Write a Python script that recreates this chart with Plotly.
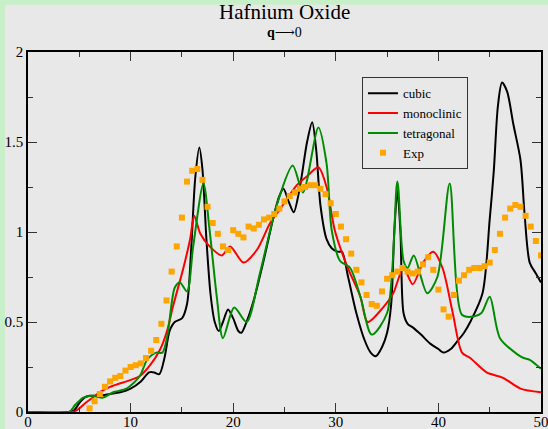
import plotly.graph_objects as go

# ---- data ----
cubic_x = [0, 4, 4.5, 5, 5.5, 6, 7, 8, 9, 10, 11, 11.8, 12.3, 12.8, 13.3, 13.8, 14.3, 15, 15.5, 15.9, 16.3, 16.7,
           17.0, 17.4, 17.8, 18.2, 18.6, 19.0, 19.5, 20.0, 20.5, 20.8, 21.3, 22, 23, 24, 24.5, 24.9, 25.4, 25.9,
           26.5, 27.2, 27.7, 28.1, 28.5, 29.1, 29.6, 30.2, 30.6, 31.2, 32, 32.8, 33.4, 33.9, 34.5, 35.0, 35.4,
           35.7, 36.0, 36.3, 36.6, 37.0, 37.5, 38.3, 39.2, 40, 40.5, 41.2, 41.8, 42.5, 43.1, 44.3, 45, 45.4,
           45.8, 46.2, 46.7, 47.3, 48, 48.4, 48.9, 49.5, 50]
cubic_y = [0, 0, 0.01, 0.05, 0.08, 0.09, 0.09, 0.1, 0.11, 0.13, 0.17, 0.22, 0.22, 0.21, 0.3, 0.45, 0.5, 0.52, 0.6,
           0.9, 1.3, 1.47, 1.35, 0.95, 0.65, 0.5, 0.45, 0.5, 0.57, 0.52, 0.45, 0.44, 0.5, 0.62, 0.85, 1.1, 1.2,
           1.24, 1.17, 1.11, 1.25, 1.5, 1.61, 1.45, 1.15, 0.96, 0.91, 0.89, 0.89, 0.75, 0.55, 0.4, 0.33, 0.31,
           0.36, 0.44, 0.6, 1.0, 1.23, 1.0, 0.55, 0.49, 0.47, 0.43, 0.38, 0.35, 0.33, 0.35, 0.39, 0.44, 0.5, 0.66,
           1.07, 1.34, 1.7, 1.83, 1.78, 1.6, 1.4, 1.1, 0.83, 0.77, 0.72]

mono_x = [0, 4.4, 5, 5.6, 6.3, 7, 8, 9, 9.6, 10.9, 11.9, 12.9, 13.6, 14.1, 15.1, 15.8, 16.2, 16.8, 17.7, 18.9,
          19.7, 21.0, 22.3, 23.6, 24.6, 26.2, 27.2, 28.3, 29.1, 29.9, 31.1, 32.4, 33.1, 34.6, 35.6, 36.6, 37.5,
          38.5, 39.5, 40.4, 41.4, 42.3, 43.1, 44.7, 46.3, 48.0, 50]
mono_y = [0, 0, 0.02, 0.05, 0.08, 0.11, 0.14, 0.16, 0.17, 0.2, 0.26, 0.35, 0.46, 0.58, 0.79, 0.96, 1.09, 0.99,
          0.92, 0.87, 0.92, 0.83, 0.9, 1.05, 1.13, 1.26, 1.31, 1.36, 1.25, 1.01, 0.81, 0.64, 0.5, 0.58, 0.66,
          0.8, 0.71, 0.83, 0.89, 0.8, 0.55, 0.33, 0.3, 0.22, 0.19, 0.13, 0.11]

tetra_x = [0, 4.0, 4.6, 5.4, 6.3, 7.3, 8.3, 9.6, 10.9, 11.6, 12.5, 13.1, 13.6, 14.3, 14.8, 15.5, 16.1, 17.1, 17.7,
           18.4, 19.0, 20.1, 21.3, 22.6, 24.3, 25.8, 26.8, 28.3, 29.1, 29.6, 30.4, 31.4, 32.4, 33.5, 35.0, 36.0,
           36.6, 37.0, 37.6, 38.9, 39.9, 41.1, 42.3, 43.4, 44.2, 45.0, 46.0, 47.7, 48.3, 48.9, 50]
tetra_y = [0, 0, 0.04, 0.08, 0.09, 0.08, 0.11, 0.13, 0.2, 0.29, 0.33, 0.33, 0.43, 0.69, 0.72, 0.67, 0.92, 1.27,
           1.01, 0.64, 0.41, 0.58, 0.5, 0.77, 1.16, 1.37, 1.22, 1.58, 1.38, 1.01, 0.84, 0.8, 0.64, 0.43, 0.55,
           1.28, 0.84, 0.8, 0.87, 0.66, 0.75, 1.27, 0.54, 0.53, 0.55, 0.64, 0.41, 0.32, 0.3, 0.29, 0.24]

exp_x = [6.0 + 0.5 * i for i in range(89)]
exp_y = [0.02, 0.06, 0.10, 0.14, 0.17, 0.19, 0.20, 0.23, 0.25, 0.26, 0.27, 0.30, 0.34, 0.40, 0.49, 0.62, 0.78,
         0.92, 1.08, 1.28, 1.34, 1.35, 1.29, 1.14, 1.05, 0.99, 0.92, 0.90, 1.01, 0.99, 0.97, 1.03, 1.02, 1.04,
         1.07, 1.08, 1.10, 1.13, 1.17, 1.20, 1.22, 1.24, 1.25, 1.26, 1.26, 1.24, 1.21, 1.16, 1.10, 1.03, 0.96,
         0.88, 0.79, 0.72, 0.65, 0.60, 0.59, 0.67, 0.74, 0.76, 0.78, 0.80, 0.78, 0.77, 0.78, 0.82, 0.86, 0.79,
         0.68, 0.57, 0.53, 0.65, 0.73, 0.76, 0.79, 0.80, 0.80, 0.81, 0.83, 0.90, 0.99, 1.08, 1.13, 1.15, 1.14,
         1.09, 1.03, 0.95, 0.87]

SERIF = "Times New Roman, Liberation Serif, DejaVu Serif, serif"

fig = go.Figure()
fig.add_trace(go.Scatter(x=cubic_x, y=cubic_y, mode="lines", name="cubic",
                         line=dict(color="black", width=2, shape="spline", smoothing=0.8)))
fig.add_trace(go.Scatter(x=mono_x, y=mono_y, mode="lines", name="monoclinic",
                         line=dict(color="#ff0000", width=2, shape="spline", smoothing=0.8)))
fig.add_trace(go.Scatter(x=tetra_x, y=tetra_y, mode="lines", name="tetragonal",
                         line=dict(color="#008c00", width=2, shape="spline", smoothing=0.8)))
fig.add_trace(go.Scatter(x=exp_x, y=exp_y, mode="markers", name="Exp",
                         marker=dict(color="#ffa500", size=6, symbol="square", line=dict(width=0))))

axis_common = dict(showgrid=False, zeroline=False, showline=True, linecolor="black", linewidth=1.5,
                   mirror="ticks", ticks="inside", tickcolor="#333333", ticklen=9, tickwidth=1,
                   automargin=False, ticklabeloverflow="allow",
                   tickfont=dict(family=SERIF, size=15, color="black"))

fig.update_xaxes(range=[0, 50], tickvals=[0, 10, 20, 30, 40, 50], ticklabelstandoff=-5,
                 minor=dict(tickvals=[5, 15, 25, 35, 45], ticklen=5, tickcolor="#333333", ticks="inside"),
                 **axis_common)
fig.update_yaxes(range=[0, 2], tickvals=[0, 0.5, 1, 1.5, 2], ticktext=["0", "0.5", "1", "1.5", "2"],
                 minor=dict(tickvals=[0.25, 0.75, 1.25, 1.75], ticklen=5, tickcolor="#333333", ticks="inside"),
                 **axis_common)

fig.update_layout(
    width=548, height=429,
    margin=dict(l=28, r=7, t=52, b=17, autoexpand=False),
    paper_bgcolor="rgb(200,240,200)",
    plot_bgcolor="#e8e8e8",
    font=dict(family=SERIF),
    showlegend=True,
    legend=dict(x=0.651, y=0.93, xanchor="left", yanchor="top",
                bgcolor="rgba(0,0,0,0)", bordercolor="#333333", borderwidth=1,
                font=dict(family=SERIF, size=13, color="black"), itemwidth=30, tracegroupgap=0),
    shapes=[dict(type="rect", xref="paper", yref="paper", x0=-0.045, x1=1.02, y0=-0.06, y1=1.131,
                 fillcolor="#e8e8e8", line=dict(width=0), layer="below")],
    annotations=[
        dict(text="Hafnium Oxide", xref="paper", yref="paper", x=0.5, y=1.11, xanchor="center",
             yanchor="middle", showarrow=False, font=dict(family=SERIF, size=21, color="black")),
        dict(text="<b>q</b>⟶0", xref="paper", yref="paper", x=0.5, y=1.053, xanchor="center",
             yanchor="middle", showarrow=False, font=dict(family=SERIF, size=14, color="black")),
    ],
)

fig.write_html("out.html")
